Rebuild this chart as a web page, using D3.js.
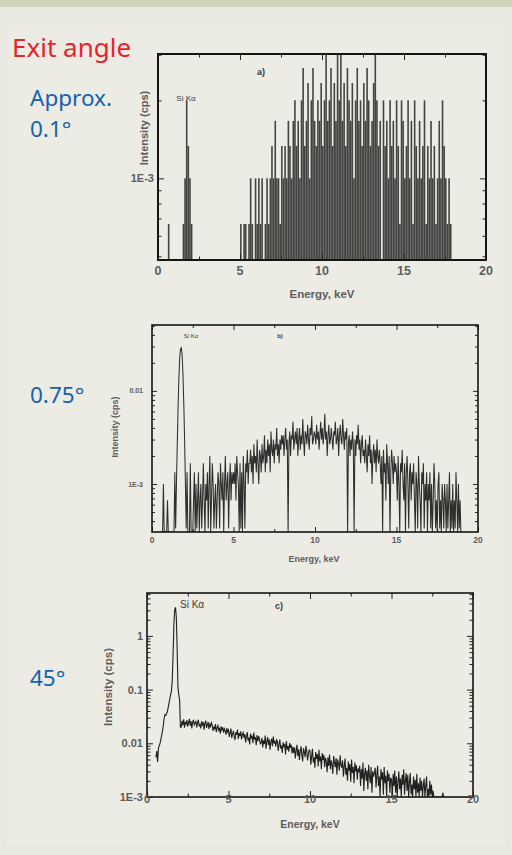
<!DOCTYPE html>
<html>
<head>
<meta charset="utf-8">
<script src="https://cdn.jsdelivr.net/npm/d3@7"></script>
<style>
  body { margin: 0; background: #e9e9e1; }
  svg { display: block; }
</style>
</head>
<body>
<svg id="chart" width="512" height="855"></svg>
<script>
// Energy axis, keV
const energyTicks = [0, 5, 10, 15, 20];
const energyMinorTicks = [2.5, 7.5, 12.5, 17.5];

// a) exit angle approx. 0.1 deg - counts per 0.1 keV channel from 0 keV
const startA = 0, channelA = 0.1;
const countsA = [
  0,0,0,0,0,0,2,0,0,0,
  0,0,0,0,1,2,3,6,4,3,
  2,0,0,0,0,1,0,0,0,0,
  0,0,1,0,0,0,0,0,0,0,
  0,0,0,0,0,1,0,0,0,1,
  2,1,2,2,1,2,3,2,1,3,
  2,3,2,3,1,2,3,2,3,4,
  3,5,3,3,2,4,3,4,3,5,
  4,3,5,6,4,5,3,6,8,4,
  5,7,3,6,8,5,4,6,5,7,
  4,6,9,5,6,8,4,7,5,9,
  6,9,5,7,4,8,6,5,7,3,
  6,8,5,6,4,7,5,8,6,4,
  5,7,9,6,4,5,1,6,4,5,
  3,6,4,5,3,6,4,2,6,5,
  3,4,6,3,5,2,6,4,3,5,
  3,4,6,2,4,3,5,3,4,2,
  3,5,3,6,4,3,2,3,2,0
];

// b) exit angle 0.75 deg - counts per 0.05 keV channel from 0.5 keV
const startB = 0.5, channelB = 0.05;
const countsB = [
  0,0,0,0,3,0,0,0,0,2,
  0,0,0,0,0,0,0,0,4,1,
  3,8,20,42,68,84,87,72,45,22,
  9,3,1,4,0,0,0,5,0,0,
  0,2,4,0,3,1,2,4,0,2,
  3,1,2,5,2,0,3,2,4,1,3,6,0,2,5,3,1,2,3,1,
  2,4,3,1,5,3,2,4,0,3,6,2,3,4,1,3,5,2,4,3,
  4,3,5,2,6,4,3,0,5,1,4,0,6,3,1,5,4,7,3,5,
  5,7,4,6,3,8,5,6,4,9,5,3,7,6,4,8,5,6,10,4,
  7,5,9,6,8,4,11,7,6,9,5,8,7,12,6,8,5,9,7,10,
  8,10,6,9,12,7,9,0,8,11,6,10,9,14,7,9,11,8,12,6,
  9,12,7,10,8,15,9,6,11,10,8,13,9,7,12,10,16,8,9,11,
  10,8,13,9,11,7,10,14,9,12,8,10,17,9,11,6,10,13,8,9,
  12,9,7,11,10,14,8,9,12,6,10,13,9,8,15,10,7,11,9,12,
  0,8,10,6,9,7,11,8,0,9,6,10,8,13,7,9,5,8,10,6,
  7,5,9,6,4,8,6,10,5,7,3,6,8,5,7,4,9,6,5,7,
  5,3,6,0,7,4,5,2,8,5,3,6,0,4,7,5,3,6,4,5,
  4,2,6,3,0,5,4,7,3,2,5,0,4,6,3,1,4,5,2,4,
  3,5,2,0,4,3,1,6,3,2,0,4,3,5,1,3,2,4,0,3,
  2,4,1,3,0,2,5,3,1,2,0,3,4,1,2,0,3,2,1,3,
  2,0,3,1,2,4,0,2,1,3,0,2,1,4,2,0,3,1,2,0,
  0
];

// cps for one count in a) and b)
const cpsPerCount = 1 / 3000;

// c) exit angle 45 deg - intensity in 1E-4 cps per 0.05 keV channel from 0.55 keV
const startC = 0.55, channelC = 0.05;
const intensityC = [
  55,72,45,80,90,100,118,140,170,
  215,290,340,330,355,390,460,560,680,800,
  950,1500,4500,16000,31000,34000,22000,5500,1100,800,
  650,200,
  200,262,218,281,195,250,228,270,205,243,286,212,259,190,247,274,221,238,
  262,198,241,275,206,230,189,258,221,247,180,236,265,194,219,250,185,228,207,242,
  218,170,205,182,229,161,196,214,174,188,152,207,179,198,158,186,171,145,192,163,
  176,132,160,188,125,149,170,138,115,162,144,181,121,155,136,167,118,147,159,126,
  148,104,135,162,112,127,95,151,122,139,100,158,117,130,92,143,108,136,120,98,
  102,126,84,114,97,140,79,108,131,93,119,76,105,122,88,134,99,111,87,115,
  108,72,95,117,80,91,66,104,85,98,62,110,76,89,70,101,82,94,65,86,
  66,84,52,73,94,58,77,49,70,88,61,46,81,69,55,90,72,48,63,75,
  72,40,58,79,44,55,35,69,51,63,37,76,46,57,33,66,49,61,36,54,
  45,29,55,38,62,33,48,40,27,58,44,36,53,26,50,42,31,60,39,35,
  48,24,37,52,26,35,20,46,31,41,19,50,28,36,18,44,30,39,21,34,
  29,38,16,33,22,44,13,27,35,20,31,14,40,25,18,36,12,30,24,28,
  35,15,26,38,16,24,9,33,21,29,11,36,18,25,8,31,20,27,12,23,
  21,9,27,16,31,12,24,7,19,30,14,22,6,26,17,33,11,20,28,13,
  26,10,19,28,11,17,5,24,14,21,8,27,12,18,6,23,13,20,7,16,
  22,8,16,24,9,14,5,20,11,17,
  9,13,6,10,5,8,4,7,3,6,3,4,2,12,3
];

// Y tick labels per panel
const yTicksA = [1e-3], yTickLabelsA = ['1E-3'];
const yTicksB = [0.01, 1e-3], yTickLabelsB = ['0.01', '1E-3'];
const yTicksC = [1, 0.1, 0.01, 1e-3], yTickLabelsC = ['1', '0.1', '0.01', '1E-3'];

// Left-hand captions
const angleLabels = [
  { lines: ['Approx.', '0.1\u00b0'], y: 106 },
  { lines: ['0.75\u00b0'], y: 403 },
  { lines: ['45\u00b0'], y: 686 }
];

const svg = d3.select('#chart');
const tickFont = 'Liberation Sans, Arial, sans-serif';

// page background
svg.append('rect').attr('width', 512).attr('height', 855).attr('fill', '#e9e9e1');
svg.append('rect').attr('x', 7).attr('y', 23).attr('width', 498).attr('height', 822).attr('fill', '#ecece5');
svg.append('rect').attr('width', 512).attr('height', 7).attr('fill', '#d1d3bd');

svg.append('text')
    .attr('x', 12).attr('y', 57)
    .attr('font-family', 'Noto Sans, sans-serif')
    .attr('font-size', 26)
    .attr('fill', '#e8232a')
    .text('Exit angle');

// one text element per caption, lines as tspans
angleLabels.forEach(lab => {
    svg.append('text')
        .attr('x', 30).attr('y', lab.y)
        .attr('font-family', 'Noto Sans, sans-serif')
        .attr('font-size', 22.5)
        .attr('fill', '#1462ad')
        .selectAll('tspan').data(lab.lines).join('tspan')
        .attr('x', 30)
        .attr('dy', (d, i) => i ? 31 : 0)
        .text(d => d);
});

function minorLogTicks(domain) {
    const ticks = [];
    const lo = Math.floor(Math.log10(domain[0])), hi = Math.ceil(Math.log10(domain[1]));
    for (let k = lo; k <= hi; k++) {
        for (let m = 2; m <= 9; m++) {
            const v = m * Math.pow(10, k);
            if (v > domain[0] && v < domain[1]) ticks.push(v);
        }
    }
    return ticks;
}

function drawPanel(p) {
    const x = d3.scaleLinear().domain([0, 20]).range([p.left, p.right]);
    const y = d3.scaleLog().domain(p.yDomain).range([p.bottom, p.top]).clamp(true);
    const g = svg.append('g');

    const clipId = 'clip-' + p.name;
    svg.append('clipPath').attr('id', clipId)
        .append('rect')
        .attr('x', p.left).attr('y', p.top)
        .attr('width', p.right - p.left).attr('height', p.bottom - p.top);

    const data = g.append('g').attr('clip-path', `url(#${clipId})`);
    p.drawData(data, x, y);

    // inward ticks on all four sides
    const tick = (axis, tr, len) => {
        g.append('g')
            .attr('transform', tr)
            .call(axis.tickSizeInner(len).tickSizeOuter(0).tickFormat(''))
            .call(a => a.select('.domain').remove())
            .call(a => a.selectAll('line').attr('stroke', '#222').attr('stroke-width', 1));
    };
    const yMinor = minorLogTicks(p.yDomain);
    tick(d3.axisBottom(x).tickValues(energyTicks), `translate(0,${p.bottom})`, -p.major);
    tick(d3.axisBottom(x).tickValues(energyMinorTicks), `translate(0,${p.bottom})`, -p.minor);
    tick(d3.axisTop(x).tickValues(energyTicks), `translate(0,${p.top})`, -p.major);
    tick(d3.axisTop(x).tickValues(energyMinorTicks), `translate(0,${p.top})`, -p.minor);
    tick(d3.axisLeft(y).tickValues(p.yTicks), `translate(${p.left},0)`, -p.major);
    tick(d3.axisLeft(y).tickValues(yMinor), `translate(${p.left},0)`, -p.minor);
    tick(d3.axisRight(y).tickValues(p.yTicks), `translate(${p.right},0)`, -p.major);
    tick(d3.axisRight(y).tickValues(yMinor), `translate(${p.right},0)`, -p.minor);

    g.append('rect')
        .attr('x', p.left).attr('y', p.top)
        .attr('width', p.right - p.left).attr('height', p.bottom - p.top)
        .attr('fill', 'none').attr('stroke', '#151515').attr('stroke-width', p.frame);

    g.selectAll('.xl').data(energyTicks).join('text')
        .attr('x', d => x(d)).attr('y', p.xLabelY)
        .attr('text-anchor', 'middle')
        .attr('font-family', tickFont).attr('font-weight', 'bold')
        .attr('font-size', p.tickSize).attr('fill', '#5c5c5c')
        .text(d => d);

    g.selectAll('.yl').data(p.yTicks).join('text')
        .attr('x', p.yLabelX).attr('y', d => y(d))
        .attr('dy', '0.36em')
        .attr('text-anchor', 'end')
        .attr('font-family', tickFont).attr('font-weight', 'bold')
        .attr('font-size', p.yTickSize).attr('fill', '#5c5c5c')
        .text((d, i) => p.yTickLabels[i]);

    g.append('text')
        .attr('transform', `translate(${p.yTitle[0]},${p.yTitle[1]}) rotate(-90)`)
        .attr('text-anchor', 'middle').attr('dy', '0.36em')
        .attr('font-family', tickFont).attr('font-weight', 'bold')
        .attr('font-size', p.yTitleSize).attr('fill', '#5c5c5c')
        .text('Intensity (cps)');

    g.append('text')
        .attr('x', p.xTitle[0]).attr('y', p.xTitle[1])
        .attr('text-anchor', 'middle')
        .attr('font-family', tickFont).attr('font-weight', 'bold')
        .attr('font-size', p.xTitleSize).attr('fill', '#5c5c5c')
        .text('Energy, keV');

    g.append('text')
        .attr('x', p.peak[0]).attr('y', p.peak[1])
        .attr('text-anchor', p.peak[3])
        .attr('font-family', tickFont)
        .attr('font-size', p.peak[2]).attr('fill', '#3a3a3a')
        .text('Si K\u03b1');

    g.append('text')
        .attr('x', p.tag[0]).attr('y', p.tag[1])
        .attr('text-anchor', 'middle')
        .attr('font-family', tickFont).attr('font-weight', 'bold')
        .attr('font-size', p.tag[2]).attr('fill', '#3a3a3a')
        .text(p.name + ')');
}

// a) bar spectrum
drawPanel({
    name: 'a', left: 158, right: 486, top: 54, bottom: 260,
    yDomain: [4.84e-4, 3.02e-3], yTicks: yTicksA, yTickLabels: yTickLabelsA,
    major: 6, minor: 3.5, frame: 2,
    tickSize: 12.5, xLabelY: 275, yTickSize: 11, yLabelX: 154,
    yTitleSize: 11, xTitleSize: 11.5, yTitle: [144, 128], xTitle: [322, 298],
    peak: [186, 101, 8, 'middle'], tag: [261, 75, 9],
    drawData: (g, x, y) => {
        g.selectAll('line').data(countsA.map((c, i) => ({ e: startA + (i + 0.5) * channelA, c })).filter(d => d.c >= 2))
            .join('line')
            .attr('x1', d => x(d.e)).attr('x2', d => x(d.e))
            .attr('y1', y.range()[0]).attr('y2', d => y(d.c * cpsPerCount))
            .attr('stroke', '#262626').attr('stroke-width', 1.6).attr('stroke-opacity', 0.85);
    }
});

// b) line spectrum
drawPanel({
    name: 'b', left: 152, right: 478, top: 325, bottom: 532,
    yDomain: [3.05e-4, 0.051], yTicks: yTicksB, yTickLabels: yTickLabelsB,
    major: 5, minor: 3, frame: 1.6,
    tickSize: 8.5, xLabelY: 543, yTickSize: 7, yLabelX: 143,
    yTitleSize: 9, xTitleSize: 9, yTitle: [115, 427], xTitle: [314, 562],
    peak: [191, 338, 6, 'middle'], tag: [280, 338, 6],
    drawData: (g, x, y) => {
        const line = d3.line()
            .x((d, i) => x(startB + i * channelB))
            .y(d => y(Math.max(d, 0.5) * cpsPerCount));
        g.append('path').datum(countsB)
            .attr('d', line)
            .attr('fill', 'none').attr('stroke', '#1a1a1a')
            .attr('stroke-width', 1.05).attr('stroke-opacity', 0.9);
    }
});

// c) line spectrum
drawPanel({
    name: 'c', left: 147, right: 473, top: 593, bottom: 797,
    yDomain: [1e-3, 6.3], yTicks: yTicksC, yTickLabels: yTickLabelsC,
    major: 6, minor: 3.5, frame: 1.6,
    tickSize: 11, xLabelY: 803, yTickSize: 11, yLabelX: 143,
    yTitleSize: 11.5, xTitleSize: 10.5, yTitle: [108, 687], xTitle: [310, 828],
    peak: [180, 608, 10, 'start'], tag: [279, 609, 9],
    drawData: (g, x, y) => {
        const line = d3.line()
            .x((d, i) => x(startC + i * channelC))
            .y(d => y(d * 1e-4));
        g.append('path').datum(intensityC)
            .attr('d', line)
            .attr('fill', 'none').attr('stroke', '#151515')
            .attr('stroke-width', 1.1).attr('stroke-opacity', 0.95);
    }
});
</script>
</body>
</html>
